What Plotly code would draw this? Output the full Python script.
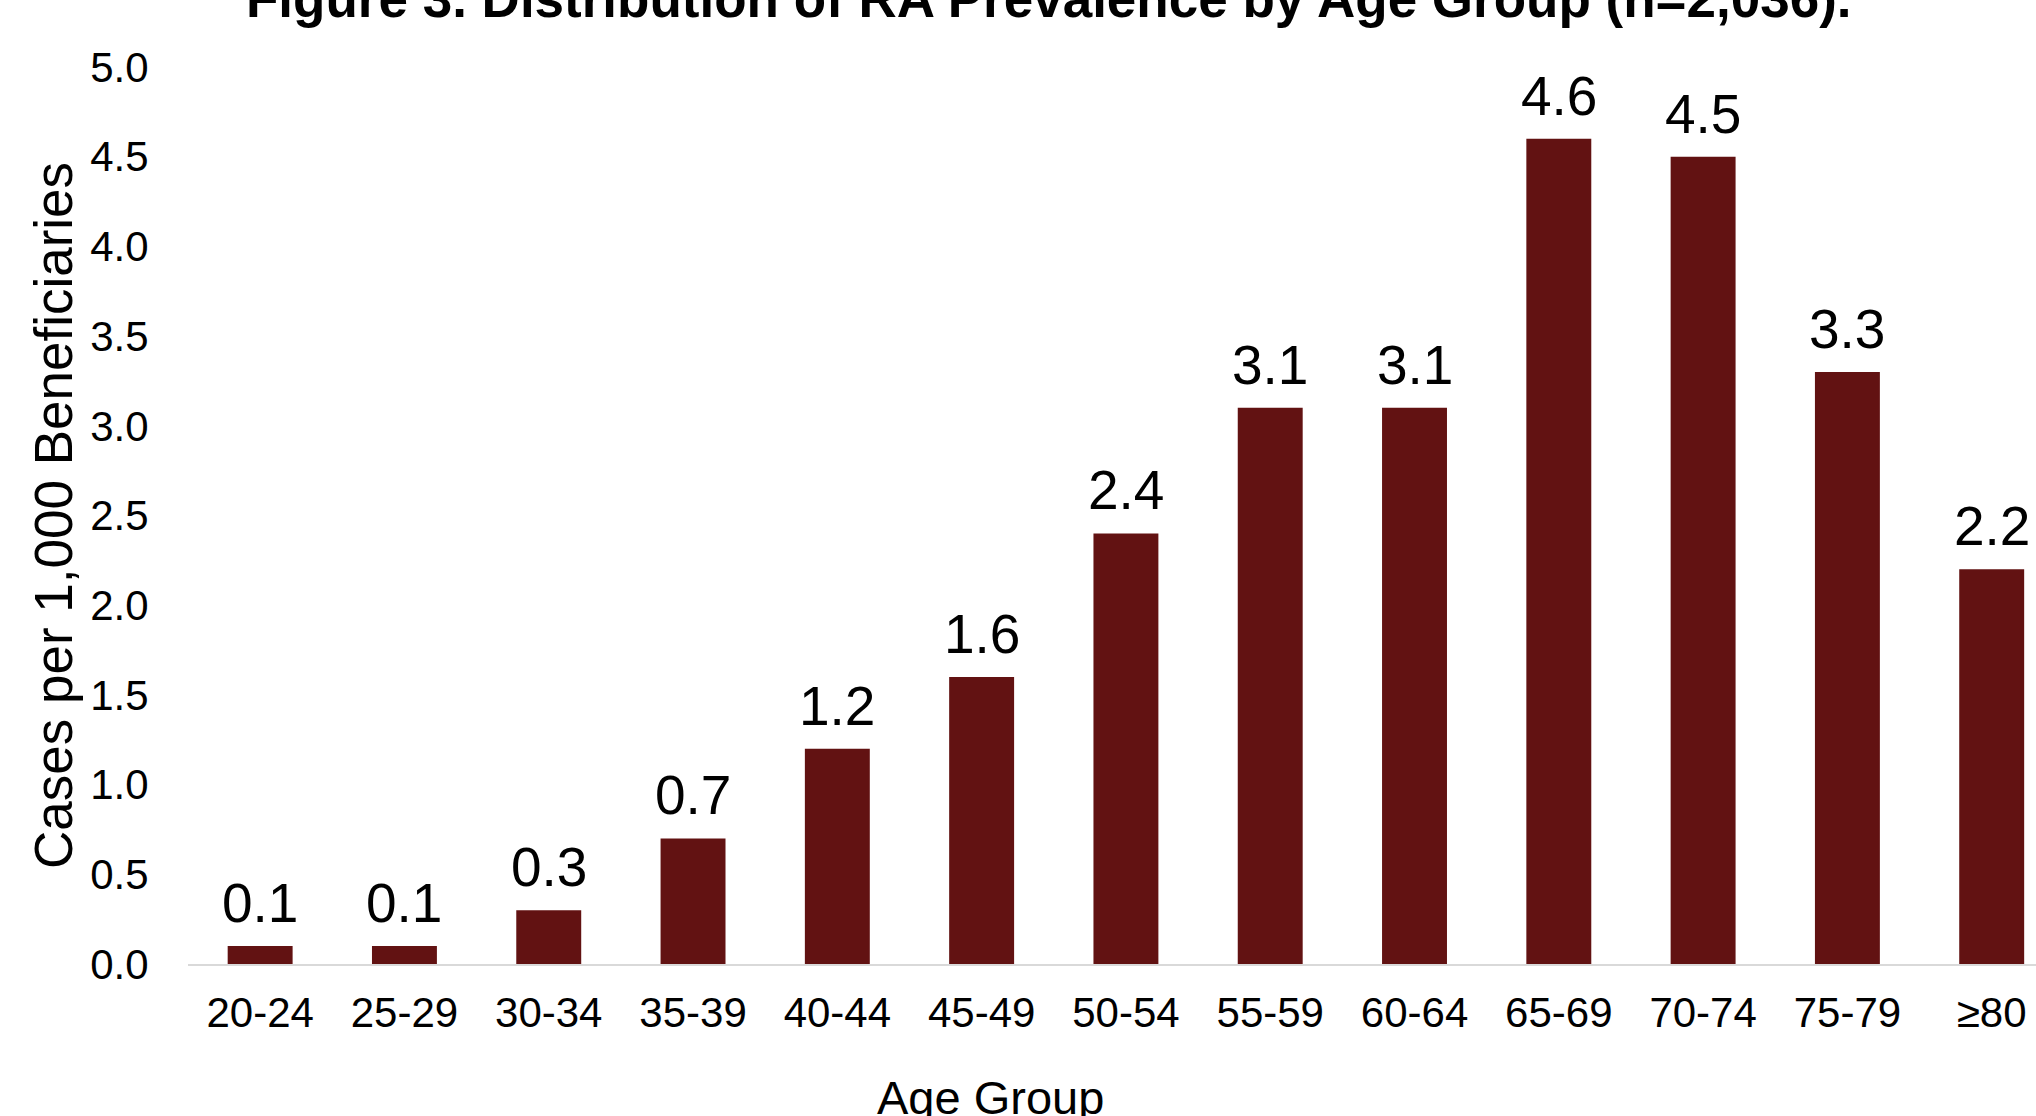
import plotly.graph_objects as go

# Prevalence of RA per 1,000 beneficiaries, by age group
age_groups = ["20-24", "25-29", "30-34", "35-39", "40-44", "45-49", "50-54",
              "55-59", "60-64", "65-69", "70-74", "75-79", "≥80"]
cases_per_1000 = [0.1, 0.1, 0.3, 0.7, 1.2, 1.6, 2.4, 3.1, 3.1, 4.6, 4.5, 3.3, 2.2]
y_ticks = [0.0, 0.5, 1.0, 1.5, 2.0, 2.5, 3.0, 3.5, 4.0, 4.5, 5.0]

title_text = "Figure 3. Distribution of RA Prevalence by Age Group (n=2,036)."
x_title = "Age Group"
y_title = "Cases per 1,000 Beneficiaries"

FONT = "Liberation Sans, Arial, sans-serif"
BAR_COLOR = "#621212"

W_PX, H_PX = 2036, 1116
LEFT, TOP, BOTTOM = 188, 67, 964
plot_w = W_PX - LEFT
plot_h = BOTTOM - TOP


def paper_x(px):
    return (px - LEFT) / plot_w


def paper_y(py):
    return (BOTTOM - py) / plot_h


fig = go.Figure(
    go.Bar(
        x=age_groups,
        y=cases_per_1000,
        marker=dict(color=BAR_COLOR, line=dict(width=0)),
        hoverinfo="x+y",
    )
)

# value labels above each bar
annotations = [
    dict(x=g, y=v, xref="x", yref="y", text=f"{v:.1f}", showarrow=False,
         yanchor="middle", xanchor="center", yshift=43,
         font=dict(family=FONT, size=55, color="#000000"))
    for g, v in zip(age_groups, cases_per_1000)
]

annotations += [
    dict(x=paper_x(1049), y=paper_y(-1), xref="paper", yref="paper",
         text=f"<b>{title_text}</b>", showarrow=False,
         xanchor="center", yanchor="middle",
         font=dict(family=FONT, size=53, color="#000000")),
    dict(x=paper_x(990), y=paper_y(1097), xref="paper", yref="paper",
         text=x_title, showarrow=False, xanchor="center", yanchor="middle",
         font=dict(family=FONT, size=47, color="#000000")),
    dict(x=paper_x(53), y=paper_y(516), xref="paper", yref="paper",
         text=y_title, showarrow=False, textangle=-90,
         xanchor="center", yanchor="middle",
         font=dict(family=FONT, size=53, color="#000000")),
]

fig.update_layout(
    width=W_PX,
    height=H_PX,
    margin=dict(l=LEFT, r=0, t=TOP, b=H_PX - BOTTOM, autoexpand=False),
    paper_bgcolor="#ffffff",
    plot_bgcolor="#ffffff",
    bargap=0.55,
    showlegend=False,
    annotations=annotations,
    font=dict(family=FONT, color="#000000"),
)

fig.update_xaxes(
    type="category",
    range=[-0.5, 12.307],
    showgrid=False,
    showline=True,
    linecolor="#d9d9d9",
    linewidth=2,
    ticks="outside",
    ticklen=11,
    tickcolor="rgba(0,0,0,0)",
    tickfont=dict(family=FONT, size=42, color="#000000"),
)

fig.update_yaxes(
    range=[0, 5],
    tickvals=y_ticks,
    ticktext=[f"{t:.1f}" for t in y_ticks],
    showgrid=False,
    zeroline=False,
    showline=False,
    ticks="outside",
    ticklen=30,
    tickcolor="rgba(0,0,0,0)",
    tickfont=dict(family=FONT, size=42, color="#000000"),
)

fig.write_html("out.html")
